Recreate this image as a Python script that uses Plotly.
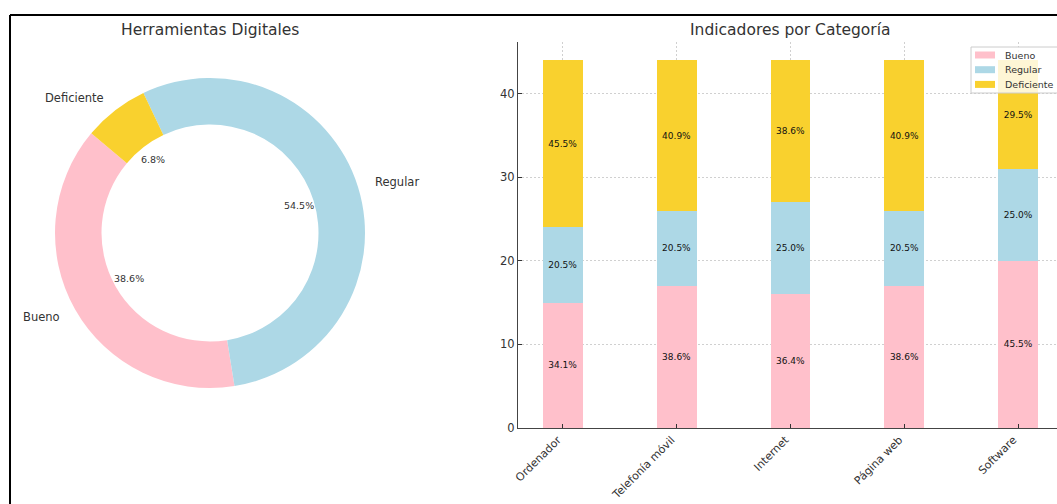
import math
import plotly.graph_objects as go

# ---------------- data ----------------
pie_labels = ["Bueno", "Regular", "Deficiente"]
pie_values = [17, 24, 3]

categories = ["Ordenador", "Telefonía móvil", "Internet", "Página web", "Software"]
bueno = [15, 17, 16, 17, 20]
regular = [9, 9, 11, 9, 11]
deficiente = [20, 18, 17, 18, 13]

series_names = ["Bueno", "Regular", "Deficiente"]
colors = ["#FFC0CB", "#ADD8E6", "#F9D12E"]

# ---------------- layout constants (pixels) ----------------
W, H = 1057, 504
FONT = "DejaVu Sans"
TXT = "#333333"


def px(x):
    return x / W


def py(y):
    return 1 - y / H


# pie geometry
cx, cy, R = 210, 233, 155
start_deg = 140  # start angle of first slice (counterclockwise from 3 o'clock)
total = sum(pie_values)
first_span = 360 * pie_values[0] / total

fig = go.Figure()

fig.add_trace(go.Pie(
    labels=pie_labels, values=pie_values,
    marker=dict(colors=colors, line=dict(width=0)),
    hole=0.7, sort=False, direction="counterclockwise",
    rotation=90 - start_deg - first_span,
    textinfo="none", hoverinfo="label+percent", showlegend=False,
    automargin=False,
    domain=dict(x=[px(cx - R), px(cx + R)], y=[py(cy + R), py(cy - R)]),
))

annotations = []
ang = start_deg
for lab, v in zip(pie_labels, pie_values):
    span = 360 * v / total
    mid = math.radians(ang + span / 2)
    ang += span
    lx = cx + 1.1 * R * math.cos(mid)
    ly = cy - 1.1 * R * math.sin(mid)
    annotations.append(dict(
        x=px(lx), y=py(ly), xref="paper", yref="paper", text=lab, showarrow=False,
        xanchor="left" if math.cos(mid) > 0 else "right", yanchor="middle",
        font=dict(family=FONT, size=11.5, color=TXT)))
    tx = cx + 0.6 * R * math.cos(mid)
    ty = cy - 0.6 * R * math.sin(mid)
    annotations.append(dict(
        x=px(tx), y=py(ty), xref="paper", yref="paper",
        text=f"{100 * v / total:.1f}%", showarrow=False,
        xanchor="center", yanchor="middle",
        font=dict(family=FONT, size=9.5, color=TXT)))

# ---------------- stacked bars ----------------
totals = [b + r + d for b, r, d in zip(bueno, regular, deficiente)]
for name, vals, col in zip(series_names, [bueno, regular, deficiente], colors):
    fig.add_trace(go.Bar(
        x=categories, y=vals, name=name, width=0.35,
        marker=dict(color=col, line=dict(width=0)),
        text=[f"{100 * v / t:.1f}%" for v, t in zip(vals, totals)],
        textposition="inside", insidetextanchor="middle", textangle=0,
        constraintext="none",
        textfont=dict(family=FONT, size=9, color="#111111"),
        showlegend=False,
        xaxis="x", yaxis="y",
    ))

# legend drawn as a box with swatches (matplotlib-style)
legend_shapes = [
    dict(type="rect", xref="paper", yref="paper",
         x0=px(971), x1=px(1062), y0=py(93), y1=py(47),
         fillcolor="rgba(255,255,255,0.8)", line=dict(color="#cccccc", width=1)),
]
for i, (name, col) in enumerate(zip(series_names, colors)):
    yc = 55 + 14.7 * i
    legend_shapes.append(dict(
        type="rect", xref="paper", yref="paper",
        x0=px(975), x1=px(995), y0=py(yc + 3.5), y1=py(yc - 3.5),
        fillcolor=col, line=dict(width=0)))
    annotations.append(dict(
        x=px(1003), y=py(yc), xref="paper", yref="paper", text=name, showarrow=False,
        xanchor="left", yanchor="middle",
        font=dict(family=FONT, size=9.5, color=TXT)))

# x axis: matplotlib-like margins, right part of axes runs past the picture edge
ax_left, ax_right = 518, 1063
x_lo, x_hi = -0.3925, 4.3925
x_hi_vis = x_lo + (x_hi - x_lo) * (W - ax_left) / (ax_right - ax_left)

GRID = dict(showgrid=True, gridcolor="#d0d0d0", griddash="2px,2px", gridwidth=0.8)

fig.update_layout(
    width=W, height=H,
    margin=dict(l=0, r=0, t=0, b=0, autoexpand=False),
    paper_bgcolor="white", plot_bgcolor="white",
    barmode="stack", showlegend=False,
    font=dict(family=FONT, color=TXT),
    xaxis=dict(
        domain=[px(ax_left), 1.0], range=[x_lo, x_hi_vis], automargin=False,
        showline=True, linecolor="#444444", linewidth=1.3,
        ticks="inside", ticklen=3.5, tickcolor="#333333",
        tickangle=-45, tickfont=dict(family=FONT, size=11, color=TXT),
        ticklabelstandoff=0, ticklabelshift=-5,
        layer="above traces", zeroline=False, **GRID,
    ),
    yaxis=dict(
        domain=[py(428), py(42)], range=[0, 46.2], automargin=False,
        tickvals=[0, 10, 20, 30, 40],
        showline=True, linecolor="#444444", linewidth=1.3,
        ticks="inside", ticklen=3.5, tickcolor="#333333",
        tickfont=dict(family=FONT, size=11.5, color=TXT),
        layer="above traces", zeroline=False, **GRID,
    ),
    annotations=annotations + [
        dict(x=px(210), y=py(30), xref="paper", yref="paper", text="Herramientas Digitales",
             showarrow=False, xanchor="center", yanchor="middle",
             font=dict(family=FONT, size=15.5, color=TXT)),
        dict(x=px(790), y=py(30), xref="paper", yref="paper", text="Indicadores por Categoría",
             showarrow=False, xanchor="center", yanchor="middle",
             font=dict(family=FONT, size=15.5, color=TXT)),
    ],
    shapes=[
        dict(type="line", xref="paper", yref="paper", x0=px(10), x1=px(10), y0=0, y1=py(15),
             line=dict(color="black", width=2)),
        dict(type="line", xref="paper", yref="paper", x0=px(10), x1=1, y0=py(15), y1=py(15),
             line=dict(color="black", width=2)),
    ] + legend_shapes,
)

fig.write_html(
    "out.html",
    config={"displayModeBar": False},
    post_script="document.body.style.margin='0';document.body.style.overflow='hidden';",
)
